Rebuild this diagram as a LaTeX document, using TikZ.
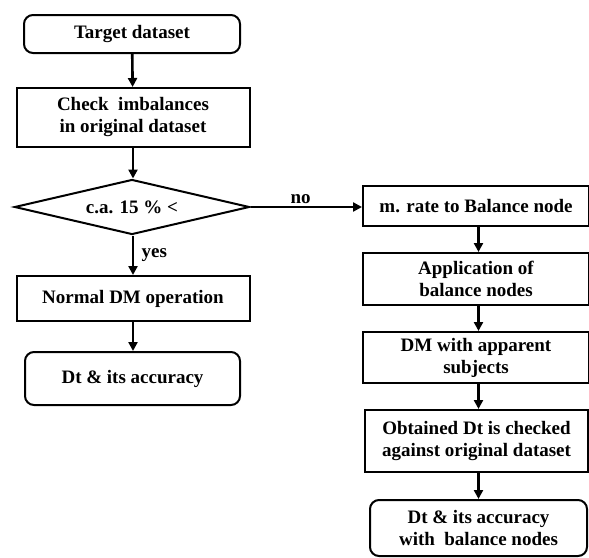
\documentclass[tikz,border=0pt]{standalone}
\usepackage{fontspec}
\setmainfont{Liberation Serif}
\usepackage{tikz}
\usetikzlibrary{arrows.meta, calc, positioning, shapes.geometric}

\begin{document}
\begin{tikzpicture}[x=1pt, y=-1pt,
    box/.style={draw, line width=2pt, align=center, inner sep=0pt,
        font=\bfseries\fontsize{19}{22}\selectfont},
    endbox/.style={box, rounded corners=9pt},
    decide/.style={box, diamond, aspect=4.3},
    flow/.style={line width=2.6pt, -{Triangle[length=9pt, width=9pt]}},
    lbl/.style={font=\bfseries\fontsize{19}{22}\selectfont}]
    \useasboundingbox (0,0) rectangle (589,557);

    % Left column
    \node[endbox, minimum width=216pt, minimum height=38pt] (target) at (132,34) {Target dataset};
    \node[box, minimum width=233pt, minimum height=59pt] (check) at (133,117.5) {Check\ \ imbalances\\in original dataset};
    \node[decide, minimum width=235pt, minimum height=55pt] (dec) at (132,207) {c.a. 15 \% <};
    \node[box, minimum width=233pt, minimum height=45pt] (normal) at (133,298.5) {Normal DM operation};
    \node[endbox, minimum width=215pt, minimum height=53pt] (dtacc) at (132.5,378.5) {Dt \& its accuracy};

    % Right column
    \node[box, minimum width=226pt, minimum height=40pt] (mrate) at (476,206) {m. rate to Balance node};
    \node[box, minimum width=226pt, minimum height=52pt] (appl) at (476,279) {Application of\\balance nodes};
    \node[box, minimum width=226pt, minimum height=51pt] (dmapp) at (476,357.5) {DM with apparent\\subjects};
    \node[box, minimum width=223pt, minimum height=62pt] (obtained) at (476.5,441) {Obtained Dt is checked\\against original dataset};
    \node[endbox, minimum width=217pt, minimum height=56pt] (final) at (478.5,528) {Dt \& its accuracy\\with\ \ balance nodes};

    % Arrows
    \draw[flow] (target) -- (check);
    \draw[flow] (check) -- (check.south |- dec.north);
    \draw[flow] (dec.south -| normal.north) -- (normal.north) node[lbl, midway, right=4pt] {yes};
    \draw[flow] (normal) -- (normal.south |- dtacc.north);
    \draw[flow] (dec.east) -- (dec.east -| mrate.west) node[lbl, pos=0.45, above=-1pt] {no};
    \draw[flow] (mrate.south -| final.north) -- (appl.north -| final.north);
    \draw[flow] (appl.south -| final.north) -- (dmapp.north -| final.north);
    \draw[flow] (dmapp.south -| final.north) -- (obtained.north -| final.north);
    \draw[flow] (obtained.south -| final.north) -- (final.north);
\end{tikzpicture}
\end{document}
